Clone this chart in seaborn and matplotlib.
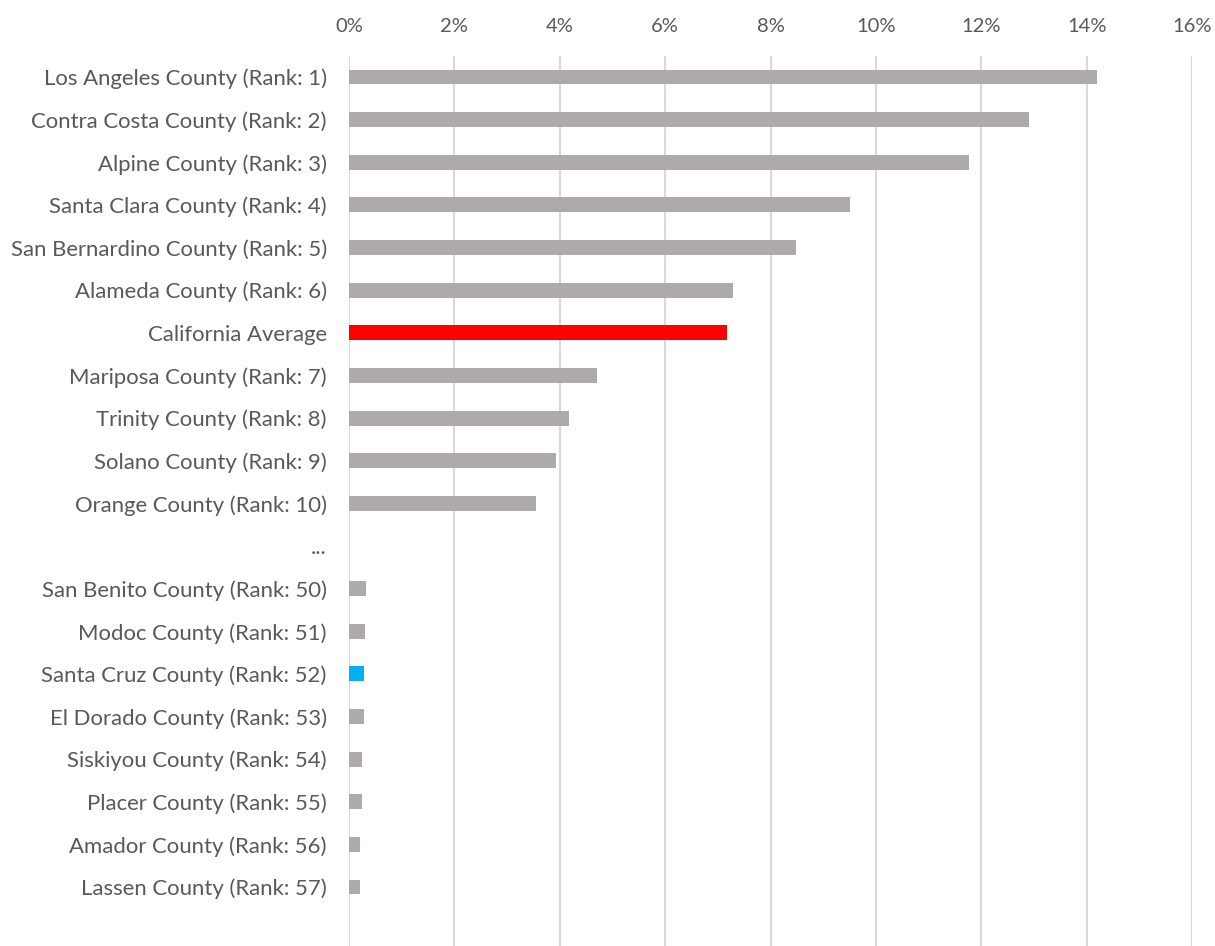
import matplotlib
matplotlib.use("Agg")
import matplotlib.pyplot as plt
import seaborn as sns
import pandas as pd
import numpy as np
from matplotlib.ticker import FuncFormatter

counties = [
    "Los Angeles County (Rank: 1)",
    "Contra Costa County (Rank: 2)",
    "Alpine County (Rank: 3)",
    "Santa Clara County (Rank: 4)",
    "San Bernardino County (Rank: 5)",
    "Alameda County (Rank: 6)",
    "California Average",
    "Mariposa County (Rank: 7)",
    "Trinity County (Rank: 8)",
    "Solano County (Rank: 9)",
    "Orange County (Rank: 10)",
    "...",
    "San Benito County (Rank: 50)",
    "Modoc County (Rank: 51)",
    "Santa Cruz County (Rank: 52)",
    "El Dorado County (Rank: 53)",
    "Siskiyou County (Rank: 54)",
    "Placer County (Rank: 55)",
    "Amador County (Rank: 56)",
    "Lassen County (Rank: 57)",
]
shares = [14.19, 12.90, 11.76, 9.51, 8.49, 7.28, 7.17, 4.70, 4.18, 3.92, 3.55,
          np.nan, 0.33, 0.31, 0.28, 0.28, 0.24, 0.24, 0.21, 0.21]
x_ticks = [0, 2, 4, 6, 8, 10, 12, 14, 16]

GRAY = "#AEAAAA"
bar_colors = {c: GRAY for c in counties}
bar_colors["California Average"] = "#FF0000"
bar_colors["Santa Cruz County (Rank: 52)"] = "#00B0F0"

df = pd.DataFrame({"county": counties, "share": shares})

sns.set_theme(style="white")
plt.rcParams["font.family"] = ["Lato", "DejaVu Sans"]

fig = plt.figure(figsize=(12.15, 9.46), dpi=100)
ax = fig.add_axes([349 / 1215, 0.0, (1192 - 349) / 1215, 1 - 55.7 / 946])

sns.barplot(data=df, x="share", y="county", hue="county", order=counties,
            hue_order=counties, palette=bar_colors, saturation=1, orient="h",
            width=0.35, linewidth=0, legend=False, ax=ax, zorder=3)

ax.set_xlim(0, 16)
ax.set_ylim(-0.5 + 890.3 / 42.63, -0.5)
ax.set_xticks(x_ticks)
ax.xaxis.set_major_formatter(FuncFormatter(lambda v, p: f"{v:.0f}%"))
ax.xaxis.tick_top()
ax.grid(axis="x", color="#D9D9D9", linewidth=1.5, zorder=0)
ax.grid(axis="y", visible=False)
for s in ax.spines.values():
    s.set_visible(False)
ax.set_xlabel("")
ax.set_ylabel("")
ax.tick_params(axis="x", length=0, pad=15, labelsize=14.5, labelcolor="#595959")
ax.tick_params(axis="y", length=0, pad=16, labelsize=15.9, labelcolor="#595959")

fig.savefig("out.png", dpi=100)
